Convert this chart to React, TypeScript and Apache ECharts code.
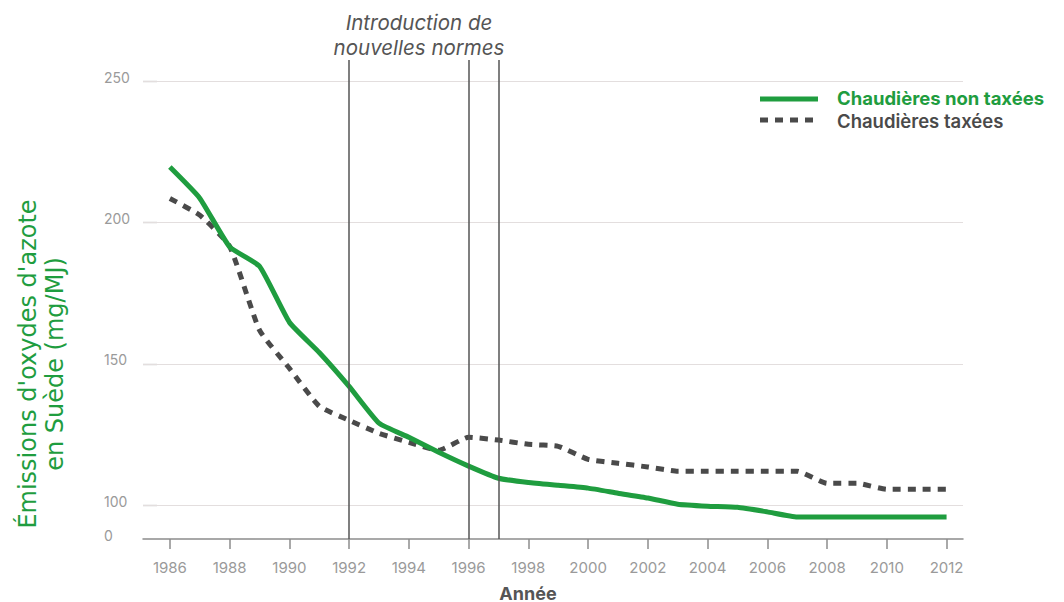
import React, { useEffect, useRef } from "react";
import * as echarts from "echarts";

const years = [1986,1987,1988,1989,1990,1991,1992,1993,1994,1995,1996,1997,1998,1999,2000,2001,2002,2003,2004,2005,2006,2007,2008,2009,2010,2011,2012];
const nonTaxees = [219.6,208.6,191.4,184.5,164.7,154,142,129,124,118.7,113.8,109.5,108,107,106,104.2,102.5,100.3,99.6,99.2,97.6,95.8,95.8,95.8,95.8,95.8,95.8];
const taxees = [208.5,202.6,191.6,161.9,148.4,135,130,125.4,122.2,119.4,124,123,121.5,120.8,116.2,114.8,113.5,112,112,112,112,112,107.7,107.7,105.6,105.6,105.6];
const xTicks = [1986,1988,1990,1992,1994,1996,1998,2000,2002,2004,2006,2008,2010,2012];
const yTicks = [88,100,150,200,250];
const gridValues = [100,150,200,250];
const normYears = [1992,1996,1997];

const GREEN = "#1f9d3f";
const DARK = "#4a4a4a";
const LABEL_LIFT = 1.4; // labels sit slightly above their gridline

export default function App() {
  const ref = useRef<HTMLDivElement>(null);
  useEffect(() => {
    const chart = echarts.init(ref.current!, null, { renderer: "svg" });
    chart.setOption({
      animation: false,
      grid: { left: 143, right: 101, top: 60, bottom: 63, containLabel: false, outerBoundsMode: "none" },
      xAxis: {
        type: "value",
        min: 1985.1,
        max: 2012.55,
        axisLine: { show: true, lineStyle: { color: "#8c8c8c", width: 1.5 } },
        axisTick: { show: true, customValues: xTicks, length: 10, lineStyle: { color: "#8c8c8c", width: 1.5 } },
        axisLabel: { customValues: xTicks, margin: 21, fontFamily: "Inter", fontSize: 15, color: "#9a9a9a", formatter: (v: number) => String(v) },
        splitLine: { show: false },
      },
      yAxis: {
        type: "value",
        min: 88,
        max: 257.5,
        axisLine: { show: false },
        axisTick: { show: true, inside: true, customValues: gridValues, length: 14, lineStyle: { color: "#888", width: 1.2 } },
        axisLabel: {
          customValues: yTicks.map((v) => v + LABEL_LIFT),
          align: "left",
          margin: 39,
          fontFamily: "Inter",
          fontSize: 14,
          color: "#9a9a9a",
          formatter: (v: number) => {
            const t = Math.round(v - LABEL_LIFT);
            return t === 88 ? "0" : String(t);
          },
        },
        splitLine: { show: false },
      },
      series: [
        {
          type: "line",
          data: years.map((y, i) => [y, taxees[i]]),
          showSymbol: false,
          smooth: 0.15,
          lineStyle: { color: DARK, width: 5, type: [8, 7], cap: "butt" },
          z: 3,
          markLine: {
            silent: true,
            symbol: "none",
            label: { show: false },
            lineStyle: { color: "#e3dede", width: 1, type: "solid" },
            data: gridValues.map((v) => ({ yAxis: v })),
            z: 1,
          },
        },
        {
          type: "line",
          data: years.map((y, i) => [y, nonTaxees[i]]),
          showSymbol: false,
          smooth: 0.15,
          lineStyle: { color: GREEN, width: 5 },
          z: 4,
          markLine: {
            silent: true,
            symbol: "none",
            label: { show: false },
            lineStyle: { color: "#555", width: 1.5, type: "solid" },
            data: normYears.map((v) => ({ xAxis: v })),
          },
        },
      ],
      graphic: [
        {
          type: "text",
          x: 419,
          y: 35,
          style: {
            text: "Introduction de\nnouvelles normes",
            fontFamily: "Inter",
            fontStyle: "italic",
            fontSize: 20.5,
            lineHeight: 25,
            fill: "#555",
            textAlign: "center",
            textVerticalAlign: "middle",
          },
        },
        {
          type: "text",
          x: 528,
          y: 593,
          style: {
            text: "Année",
            fontFamily: "Inter",
            fontWeight: "bold",
            fontSize: 18,
            fill: "#555",
            textAlign: "center",
            textVerticalAlign: "middle",
          },
        },
        {
          type: "text",
          x: 41,
          y: 364,
          rotation: Math.PI / 2,
          style: {
            text: "Émissions d'oxydes d'azote\nen Suède (mg/MJ)",
            fontFamily: "DejaVu Sans",
            fontSize: 24,
            lineHeight: 27,
            fill: GREEN,
            textAlign: "center",
            textVerticalAlign: "middle",
          },
        },
        { type: "line", shape: { x1: 760, y1: 99, x2: 818, y2: 99 }, style: { stroke: GREEN, lineWidth: 5 } },
        { type: "line", shape: { x1: 760, y1: 120, x2: 814, y2: 120 }, style: { stroke: DARK, lineWidth: 5, lineDash: [8, 7] } },
        {
          type: "text",
          x: 837,
          y: 98,
          style: { text: "Chaudières non taxées", fontFamily: "Inter", fontWeight: "bold", fontSize: 18.5, lineHeight: 19, fill: GREEN, textVerticalAlign: "middle" },
        },
        {
          type: "text",
          x: 837,
          y: 121,
          style: { text: "Chaudières taxées", fontFamily: "Inter", fontWeight: 600, fontSize: 18.5, lineHeight: 19, fill: DARK, textVerticalAlign: "middle" },
        },
      ],
    });
    return () => chart.dispose();
  }, []);
  return <div ref={ref} style={{ width: 1064, height: 602, position: "absolute", left: 0, top: 0 }} />;
}
